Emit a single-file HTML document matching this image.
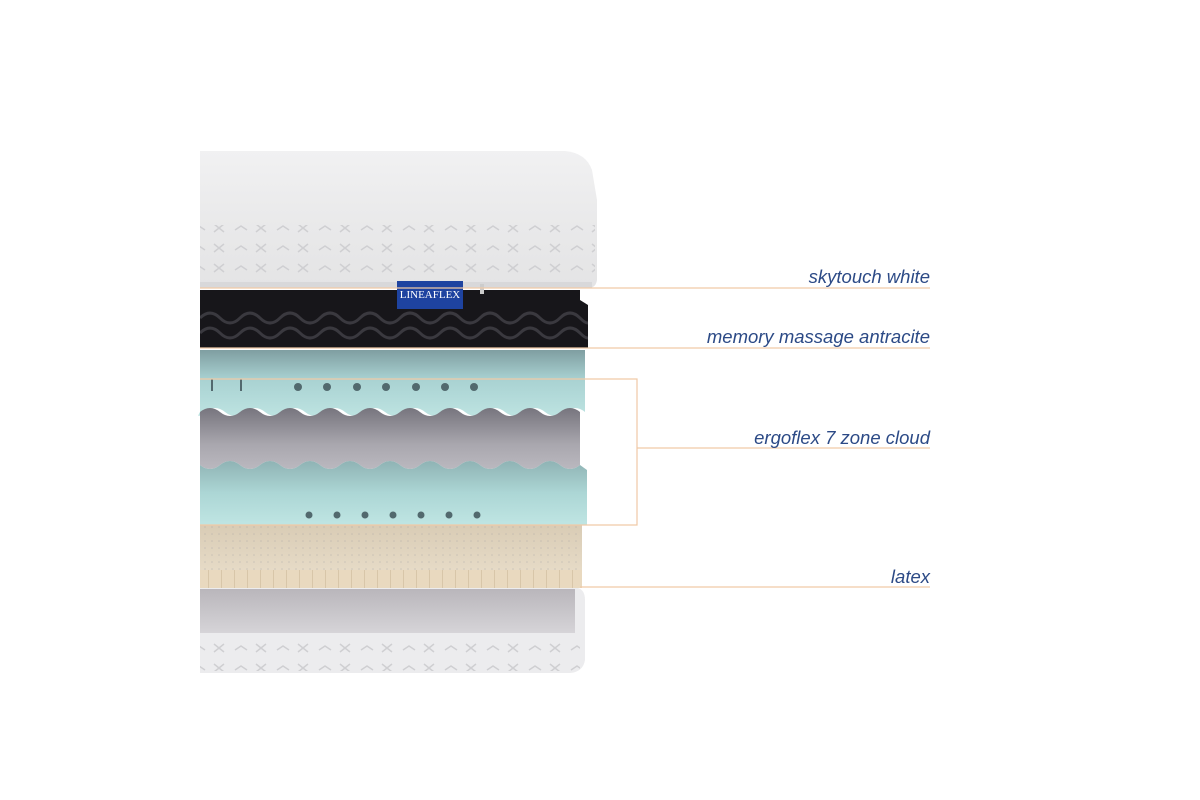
<!DOCTYPE html>
<html><head><meta charset="utf-8"><style>
html,body{margin:0;padding:0;background:#fff;width:1200px;height:800px;overflow:hidden}
svg text{font-family:"Liberation Sans",sans-serif;font-style:italic;fill:#2c4a86;font-size:18.5px}
</style></head><body>
<svg width="1200" height="800" viewBox="0 0 1200 800" xmlns="http://www.w3.org/2000/svg">
<defs>
<linearGradient id="top" x1="0" y1="0" x2="0" y2="1"><stop offset="0" stop-color="#f1f1f2"/><stop offset="0.55" stop-color="#e9e9ea"/><stop offset="1" stop-color="#e4e4e5"/></linearGradient>
<linearGradient id="cy" x1="0" y1="0" x2="0" y2="1"><stop offset="0" stop-color="#7f9ea1"/><stop offset="0.45" stop-color="#a9d2d2"/><stop offset="1" stop-color="#bde3e1"/></linearGradient>
<linearGradient id="gr" x1="0" y1="0" x2="0" y2="1"><stop offset="0" stop-color="#77757e"/><stop offset="0.6" stop-color="#a9a7ae"/><stop offset="1" stop-color="#bab8bf"/></linearGradient>
<linearGradient id="cy2" x1="0" y1="0" x2="0" y2="1"><stop offset="0" stop-color="#8fb3b4"/><stop offset="0.5" stop-color="#acd6d5"/><stop offset="1" stop-color="#bfe5e3"/></linearGradient>
<linearGradient id="lx" x1="0" y1="0" x2="0" y2="1"><stop offset="0" stop-color="#d9ccb5"/><stop offset="1" stop-color="#ebe0cd"/></linearGradient>
<linearGradient id="bt" x1="0" y1="0" x2="0" y2="1"><stop offset="0" stop-color="#b9b6bb"/><stop offset="1" stop-color="#d6d4d8"/></linearGradient>
<pattern id="dots" width="7" height="7" patternUnits="userSpaceOnUse"><circle cx="2" cy="2" r="0.8" fill="#9a9aa0"/></pattern>
<pattern id="xs" width="42" height="20" patternUnits="userSpaceOnUse"><path d="M4 4 L14 12 M14 4 L4 12 M25 10 l6 -4 l6 4" stroke="#cfcfd2" stroke-width="1.5" fill="none"/></pattern>
<pattern id="lat" width="13" height="18" patternUnits="userSpaceOnUse"><line x1="0.5" y1="0" x2="0.5" y2="18" stroke="#cdb99a" stroke-width="1"/></pattern>
<clipPath id="blk"><rect x="200" y="290" width="388" height="58"/></clipPath>
</defs>
<!-- top cover -->
<path d="M200 151 H565 Q586 153 592 170 L597 200 V280 Q596 287 590 288 H200 Z" fill="url(#top)"/>
<rect x="200" y="225" width="395" height="58" fill="url(#xs)"/>
<rect x="200" y="282" width="392" height="6" fill="#d8d8da"/>
<!-- black -->
<path d="M200 290 H580 V300 L588 305 V348 H200 Z" fill="#17161a"/>
<g clip-path="url(#blk)">
<path d="M200 318 q10 -10 20 0 t20 0 t20 0 t20 0 t20 0 t20 0 t20 0 t20 0 t20 0 t20 0 t20 0 t20 0 t20 0 t20 0 t20 0 t20 0 t20 0 t20 0 t20 0 t10 0" stroke="#3a393f" stroke-width="3" fill="none"/>
<path d="M200 333 q10 -10 20 0 t20 0 t20 0 t20 0 t20 0 t20 0 t20 0 t20 0 t20 0 t20 0 t20 0 t20 0 t20 0 t20 0 t20 0 t20 0 t20 0 t20 0 t20 0 t10 0" stroke="#3a393f" stroke-width="3" fill="none"/>
</g>
<!-- logo -->
<rect x="397" y="281" width="66" height="28" fill="#1e43a0"/>
<text x="430" y="298" text-anchor="middle" style="font-size:11px;font-style:normal;fill:#fff;font-family:'Liberation Serif',serif">LINEAFLEX</text>
<rect x="480" y="284" width="4" height="10" fill="#ccc"/>
<!-- cyan 1 -->
<path d="M200 350 H585 V412 q-10 -8 -20 0 t-20 0 t-20 0 t-20 0 t-20 0 t-20 0 t-20 0 t-20 0 t-20 0 t-20 0 t-20 0 t-20 0 t-20 0 t-20 0 t-20 0 t-20 0 t-20 0 t-20 0 t-20 0 t-5 0 Z" fill="url(#cy)"/>
<g fill="#52696e"><circle cx="298" cy="387" r="4"/><circle cx="327" cy="387" r="4"/><circle cx="357" cy="387" r="4"/><circle cx="386" cy="387" r="4"/><circle cx="416" cy="387" r="4"/><circle cx="445" cy="387" r="4"/><circle cx="474" cy="387" r="4"/><rect x="211" y="379" width="2" height="12"/><rect x="240" y="379" width="2" height="12"/></g>
<!-- gray wave -->
<path d="M200 412 q10 -8 20 0 t20 0 t20 0 t20 0 t20 0 t20 0 t20 0 t20 0 t20 0 t20 0 t20 0 t20 0 t20 0 t20 0 t20 0 t20 0 t20 0 t20 0 t20 0 V465 q-10 8 -20 0 t-20 0 t-20 0 t-20 0 t-20 0 t-20 0 t-20 0 t-20 0 t-20 0 t-20 0 t-20 0 t-20 0 t-20 0 t-20 0 t-20 0 t-20 0 t-20 0 t-20 0 t-20 0 Z" fill="url(#gr)"/>
<!-- cyan 2 -->
<path d="M200 465 q10 8 20 0 t20 0 t20 0 t20 0 t20 0 t20 0 t20 0 t20 0 t20 0 t20 0 t20 0 t20 0 t20 0 t20 0 t20 0 t20 0 t20 0 t20 0 t20 0 L587 470 V525 H200 Z" fill="url(#cy2)"/>
<g fill="#52696e"><circle cx="309" cy="515" r="3.5"/><circle cx="337" cy="515" r="3.5"/><circle cx="365" cy="515" r="3.5"/><circle cx="393" cy="515" r="3.5"/><circle cx="421" cy="515" r="3.5"/><circle cx="449" cy="515" r="3.5"/><circle cx="477" cy="515" r="3.5"/></g>
<!-- latex -->
<rect x="200" y="525" width="382" height="63" fill="url(#lx)"/>
<rect x="200" y="525" width="382" height="45" fill="url(#dots)" opacity="0.35"/>
<rect x="200" y="570" width="382" height="18" fill="#e9d9bf"/>
<rect x="200" y="570" width="382" height="18" fill="url(#lat)" opacity="0.6"/>
<!-- bottom -->
<path d="M200 588 H578 Q585 590 585 600 V660 Q583 672 570 673 H200 Z" fill="#ececee"/>
<rect x="200" y="589" width="375" height="44" fill="url(#bt)"/>
<rect x="200" y="635" width="380" height="36" fill="url(#xs)"/>
<!-- lines -->
<g stroke="#f0c9a6" stroke-width="1.2" fill="none">
<line x1="200" y1="288" x2="930" y2="288"/>
<line x1="200" y1="348" x2="930" y2="348"/>
<path d="M200 379 H637 V525 H200"/>
<line x1="637" y1="448" x2="930" y2="448"/>
<line x1="580" y1="587" x2="930" y2="587"/>
</g>
<text x="930" y="283" text-anchor="end">skytouch white</text>
<text x="930" y="343" text-anchor="end">memory massage antracite</text>
<text x="930" y="444" text-anchor="end">ergoflex 7 zone cloud</text>
<text x="930" y="583" text-anchor="end">latex</text>
</svg>
</body></html>
